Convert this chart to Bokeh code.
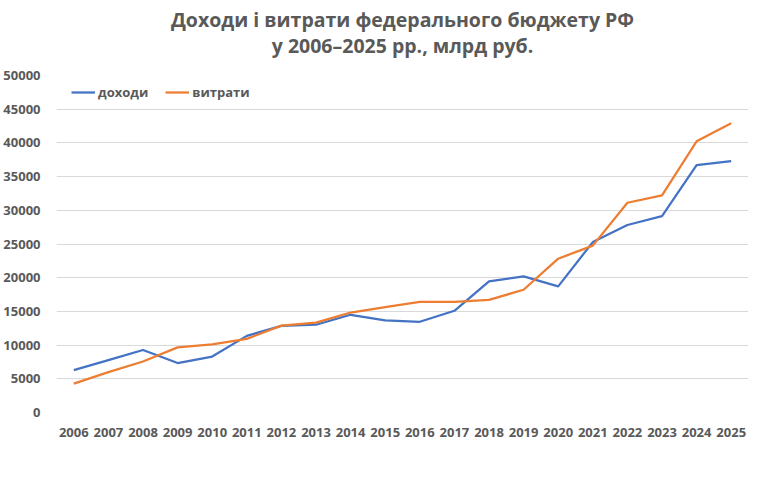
from bokeh.plotting import figure
from bokeh.models import Range1d, SingleIntervalTicker, Legend, LegendItem, Title
from bokeh.embed import file_html
from bokeh.resources import INLINE

# Federal budget of the Russian Federation, bn rubles
years = [str(y) for y in range(2006, 2026)]
revenues = [6279, 7781, 9276, 7338, 8305, 11368, 12856, 13020, 14497, 13659,
            13460, 15089, 19454, 20189, 18719, 25286, 27824, 29125, 36709, 37300]
expenditures = [4285, 5987, 7571, 9660, 10118, 10926, 12895, 13343, 14832, 15620,
                16416, 16420, 16713, 18215, 22822, 24762, 31119, 32228, 40229, 42900]
title_lines = ["Доходи і витрати федерального бюджету РФ",
               "у 2006–2025 рр., млрд руб."]

TEXT = "#595959"
FONT = "Open Sans"
W, H = 760, 477
LEFT, RIGHT, TOP, BOTTOM = 53, 12, 75, 65
FRAME_H = H - TOP - BOTTOM

p = figure(width=W, height=H, x_range=years, y_range=Range1d(0, 50000),
           output_backend="svg", toolbar_location=None,
           min_border_left=LEFT, min_border_right=RIGHT,
           min_border_top=TOP, min_border_bottom=BOTTOM)

# two-line heading, each line centred on its own; the upper line is pulled
# down with a negative standoff so the two lines sit close together
p.title.text = title_lines[0]
p.title.standoff = -41
subtitle = Title(text=title_lines[1], standoff=34)
p.add_layout(subtitle, "above")
for t in (p.title, subtitle):
    t.align = "center"
    t.text_font = FONT
    t.text_font_size = "19.5px"
    t.text_font_style = "bold"
    t.text_color = TEXT

p.outline_line_color = None
p.xgrid.grid_line_color = None
p.ygrid.grid_line_color = "#d9d9d9"
p.ygrid.grid_line_width = 1

p.yaxis.ticker = SingleIntervalTicker(interval=5000)
for ax in (p.xaxis[0], p.yaxis[0]):
    ax.axis_line_color = None
    ax.major_tick_line_color = None
    ax.minor_tick_line_color = None
    ax.major_label_text_font = FONT
    ax.major_label_text_font_size = "13px"
    ax.major_label_text_font_style = "bold"
    ax.major_label_text_color = TEXT
p.yaxis.major_label_standoff = 10
p.xaxis.major_label_standoff = 9

r1 = p.line(years, revenues, line_color="#4472C4", line_width=2.25)
r2 = p.line(years, expenditures, line_color="#ED7D31", line_width=2.25)

legend = Legend(items=[LegendItem(label="доходи", renderers=[r1]),
                       LegendItem(label="витрати", renderers=[r2])],
                orientation="horizontal", location=(15, FRAME_H - 26),
                border_line_color=None, background_fill_alpha=0,
                label_text_font=FONT, label_text_font_size="13px",
                label_text_font_style="bold", label_text_color=TEXT,
                glyph_width=24, glyph_height=16, label_height=16,
                spacing=17, margin=0, padding=0, label_standoff=3)
p.add_layout(legend)

open("out.html", "w").write(file_html(p, INLINE))
